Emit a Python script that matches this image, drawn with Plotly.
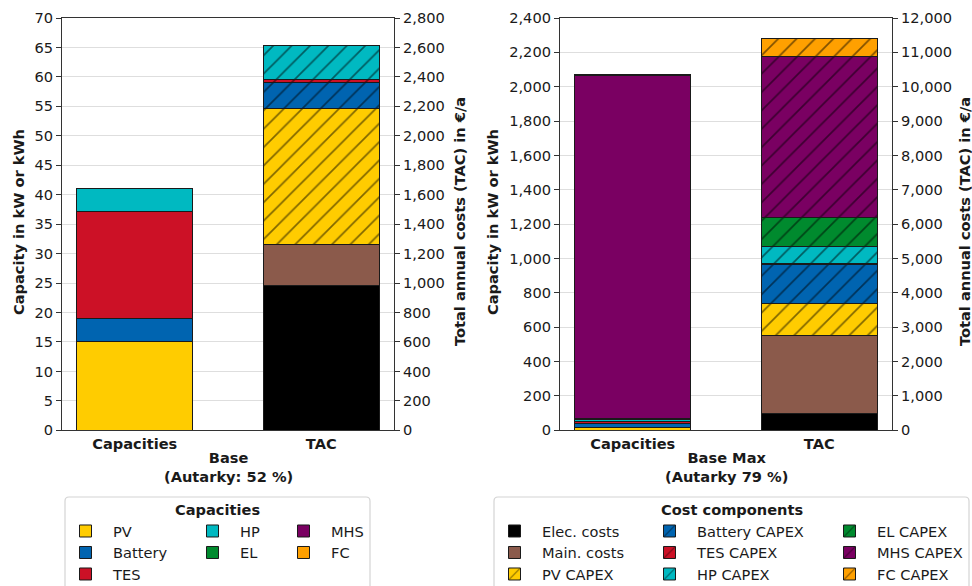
import plotly.graph_objects as go

# ---------------------------------------------------------------- data
categories = ["Capacities", "TAC"]

cap_names = ["PV", "Battery", "TES", "HP", "EL", "MHS", "FC"]
cap_colors = ["#FFCC00", "#0064B0", "#CC1126", "#00B9C1", "#008A2E", "#7A0062", "#FFA000"]

# installed capacities in kW or kWh
base_cap = [15.0, 4.0, 18.2, 3.9, 0.0, 0.0, 0.0]
basemax_cap = [15.0, 26.0, 12.0, 8.0, 5.0, 2000.0, 4.0]

cost_names = ["Elec. costs", "Main. costs", "PV CAPEX", "Battery CAPEX", "TES CAPEX",
              "HP CAPEX", "EL CAPEX", "MHS CAPEX", "FC CAPEX"]
cost_colors = ["#000000", "#8B5A4B"] + cap_colors
cost_hatched = [False, False, True, True, True, True, True, True, True]

# total annual costs in EUR/a
base_tac = [981, 283, 922, 176, 19, 233, 0, 0, 0]
basemax_tac = [475, 2292, 921, 1147, 16, 488, 844, 4710, 504]

scenarios = ["Base<br>(Autarky: 52 %)", "Base Max<br>(Autarky 79 %)"]
cap_ranges = [(0, 70, 5), (0, 2400, 200)]
tac_ranges = [(0, 2800, 200), (0, 12000, 1000)]

# ---------------------------------------------------------------- layout helpers
W, H = 972, 586
FONT = "DejaVu Sans"
FS = 14.6
INK = "#1a1a1a"


def fx(px):
    return px / W


def fy(py):
    return 1 - py / H


panel_px = [(62, 394), (560, 892)]
plot_top, plot_bottom = 18, 430.3
BAR_W = 0.62

# legend grid: one single-entry legend per slot, three columns filled top to bottom
legend_rows_px = [531, 552.5, 574]
cap_legend_cols_px = [58, 185, 276]
cost_legend_cols_px = [487, 642, 822]


def column_slots(n, ncol=3):
    """(column, row) for each of n entries, earlier columns take the extra entries."""
    base, extra = divmod(n, ncol)
    slots = []
    for c in range(ncol):
        for r in range(base + (1 if c < extra else 0)):
            slots.append((c, r))
    return slots


legend_specs = {}
cap_legend_ids = []
for i, (c, r) in enumerate(column_slots(len(cap_names))):
    lid = "legend" if i == 0 else f"legend{i + 1}"
    cap_legend_ids.append(lid)
    legend_specs[lid] = (cap_legend_cols_px[c], legend_rows_px[r])
cost_legend_ids = []
for i, (c, r) in enumerate(column_slots(len(cost_names))):
    lid = f"legend{len(cap_names) + i + 1}"
    cost_legend_ids.append(lid)
    legend_specs[lid] = (cost_legend_cols_px[c], legend_rows_px[r])

fig = go.Figure()

cap_data = [base_cap, basemax_cap]
tac_data = [base_tac, basemax_tac]

for p in range(2):
    xa = "x" if p == 0 else "x2"
    ya_cap = "y" if p == 0 else "y3"
    ya_tac = "y2" if p == 0 else "y4"
    show = p == 1
    for name, color, val, lg in zip(cap_names, cap_colors, cap_data[p], cap_legend_ids):
        fig.add_trace(go.Bar(
            x=[categories[0]], y=[val], name=name, width=BAR_W,
            marker=dict(color=color, line=dict(color=INK, width=1)),
            xaxis=xa, yaxis=ya_cap, showlegend=show, legend=lg,
            hovertemplate=name + ": %{y}<extra></extra>",
        ))
    for name, color, hatched, val, lg in zip(cost_names, cost_colors, cost_hatched,
                                            tac_data[p], cost_legend_ids):
        pattern = dict(shape="/", size=13, solidity=0.13, fgcolor="#000000",
                       fgopacity=0.5) if hatched else dict(shape="")
        fig.add_trace(go.Bar(
            x=[categories[1]], y=[val], name=name, width=BAR_W,
            marker=dict(color=color, line=dict(color=INK, width=1), pattern=pattern),
            xaxis=xa, yaxis=ya_tac, showlegend=show, legend=lg,
            hovertemplate=name + ": %{y:,}<extra></extra>",
        ))

axis_common = dict(
    showline=True, linecolor="#333333", linewidth=1.2,
    tickfont=dict(family=FONT, size=FS, color=INK),
    zeroline=False,
)

layout = dict(
    width=W, height=H, barmode="stack",
    margin=dict(l=0, r=0, t=0, b=0, autoexpand=False),
    paper_bgcolor="white", plot_bgcolor="white",
    font=dict(family=FONT, size=FS, color=INK),
    showlegend=True,
)

for p in range(2):
    x0, x1 = panel_px[p]
    xkey = "xaxis" if p == 0 else "xaxis2"
    ycap_key = "yaxis" if p == 0 else "yaxis3"
    ytac_key = "yaxis2" if p == 0 else "yaxis4"
    ycap_id = "y" if p == 0 else "y3"
    xid = "x" if p == 0 else "x2"
    lo, hi, st = cap_ranges[p]
    tlo, thi, tst = tac_ranges[p]
    layout[xkey] = dict(
        axis_common, domain=[fx(x0), fx(x1)], anchor=ycap_id,
        type="category", categoryorder="array", categoryarray=categories,
        range=[-0.39, 1.39], mirror=True, ticks="", showgrid=False,
        tickfont=dict(family=FONT, size=FS, color=INK, weight="bold"),
    )
    layout[ycap_key] = dict(
        axis_common, domain=[fy(plot_bottom), fy(plot_top)], anchor=xid,
        range=[lo, hi], tick0=0, dtick=st, tickformat=",d",
        ticks="outside", ticklen=5, tickwidth=1.2, tickcolor="#333333",
        showgrid=True, gridcolor="#dedede", gridwidth=1.3,
    )
    layout[ytac_key] = dict(
        axis_common, overlaying=ycap_id, side="right", anchor=xid,
        range=[tlo, thi], tick0=0, dtick=tst, tickformat=",d",
        ticks="outside", ticklen=5, tickwidth=1.2, tickcolor="#333333",
        showgrid=False,
    )

legend_common = dict(
    orientation="v", traceorder="normal", bgcolor="rgba(0,0,0,0)", borderwidth=0,
    font=dict(family=FONT, size=FS, color=INK), itemwidth=45,
    xanchor="left", yanchor="middle", itemclick=False, itemdoubleclick=False,
)
for lid, (xpx, ypx) in legend_specs.items():
    layout[lid] = dict(legend_common, x=fx(xpx), y=fy(ypx))

fig.update_layout(**layout)


# legend boxes with rounded corners
def rounded_box(x0, y0, x1, y1, r=4):
    X0, X1 = fx(x0), fx(x1)
    Y0, Y1 = fy(y0), fy(y1)
    rx, ry = r / W, r / H
    return (f"M {X0 + rx},{Y0} L {X1 - rx},{Y0} Q {X1},{Y0} {X1},{Y0 - ry} "
            f"L {X1},{Y1} L {X0},{Y1} L {X0},{Y0 - ry} Q {X0},{Y0} {X0 + rx},{Y0} Z")


for bx in [(65, 497, 370, 600), (494, 497, 969, 600)]:
    fig.add_shape(type="path", path=rounded_box(*bx), xref="paper", yref="paper",
                  line=dict(color="#d4d4d4", width=1.2), fillcolor="rgba(255,255,255,0.8)",
                  layer="below")


def bold_lines(s):
    return "<b>" + s.replace("<br>", "</b><br><b>") + "</b>"


annotations = [
    dict(text="<b>Capacities</b>", x=fx(217.5), y=fy(509)),
    dict(text="<b>Cost components</b>", x=fx(731.5), y=fy(509)),
    dict(text="<b>Capacity in kW or kWh</b>", x=fx(19), y=fy(222), textangle=-90),
    dict(text="<b>Total annual costs (TAC) in €/a</b>", x=fx(460), y=fy(222), textangle=-90),
    dict(text="<b>Capacity in kW or kWh</b>", x=fx(493), y=fy(222), textangle=-90),
    dict(text="<b>Total annual costs (TAC) in €/a</b>", x=fx(965), y=fy(222), textangle=-90),
    dict(text=bold_lines(scenarios[0]), x=fx(228), y=fy(467)),
    dict(text=bold_lines(scenarios[1]), x=fx(726), y=fy(467)),
]
for a in annotations:
    fig.add_annotation(xref="paper", yref="paper", showarrow=False,
                       xanchor="center", yanchor="middle",
                       font=dict(family=FONT, size=FS, color=INK), **a)

fig.write_html("out.html")
